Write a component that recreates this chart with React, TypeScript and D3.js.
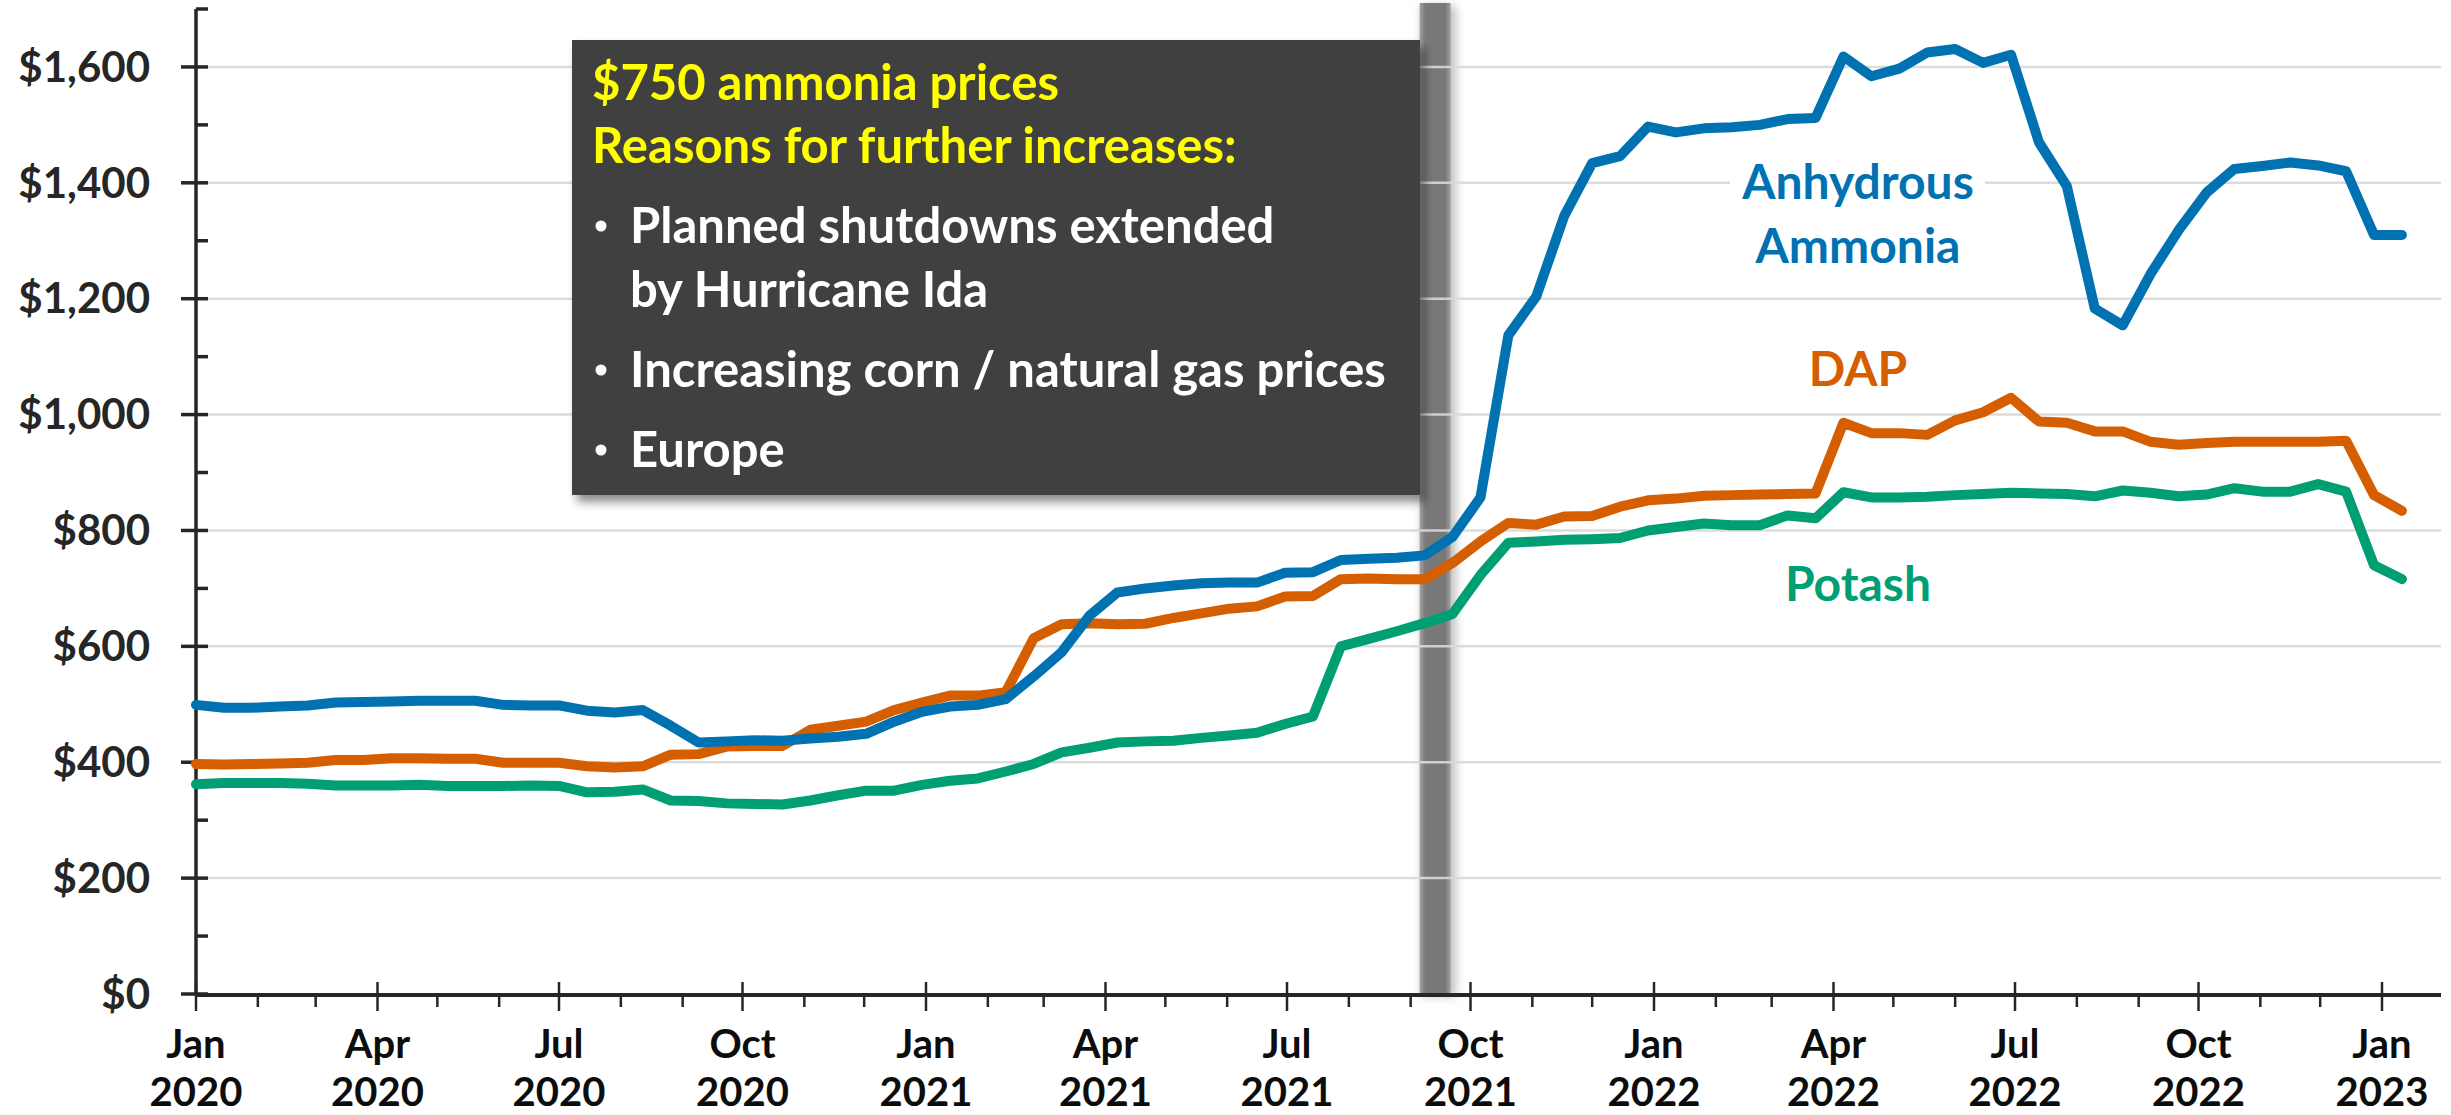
import React from 'react';
import * as d3 from 'd3';

// biweekly retail prices, $ per ton
const START = new Date(2020, 0, 1);
const STEP_DAYS = 14;

const anhydrous = [
  499, 494, 494, 496, 498, 503, 504, 505, 506, 506, 506, 499, 498, 498, 489, 486, 490, 463, 434, 436,
  438, 437, 441, 444, 449, 470, 487, 496, 499, 509, 548, 590, 653, 693, 700, 705, 709, 710, 710, 727,
  728, 749, 751, 753, 757, 789, 857, 1137, 1204, 1343, 1434, 1446, 1497, 1487, 1494, 1496, 1500, 1510, 1512, 1618,
  1584, 1597, 1625, 1631, 1607, 1621, 1470, 1394, 1183, 1154, 1243, 1318, 1383, 1424, 1429, 1435, 1430, 1420, 1310, 1310,
];
const dap = [
  397, 396, 397, 398, 399, 404, 404, 407, 407, 406, 406, 399, 399, 399, 393, 391, 393, 413, 414, 427,
  428, 428, 456, 463, 470, 490, 503, 515, 515, 521, 614, 638, 640, 638, 639, 649, 657, 665, 669, 686,
  687, 716, 717, 716, 716, 744, 781, 813, 810, 824, 825, 841, 852, 855, 860, 861, 862, 863, 864, 986,
  968, 968, 965, 990, 1004, 1029, 988, 986, 971, 971, 953, 948, 951, 953, 953, 953, 953, 955, 861, 834,
];
const potash = [
  362, 364, 364, 364, 363, 360, 360, 360, 361, 359, 359, 359, 360, 359, 348, 349, 353, 334, 333, 329,
  328, 327, 334, 343, 351, 351, 361, 368, 372, 384, 397, 417, 425, 434, 436, 437, 442, 446, 451, 466,
  479, 600, 613, 626, 640, 656, 723, 779, 781, 784, 785, 787, 800, 806, 812, 809, 809, 826, 821, 866,
  857, 857, 858, 861, 863, 865, 864, 863, 859, 869, 865, 859, 862, 873, 867, 867, 880, 867, 740, 716,
];

const seriesColors = ['#0072B2', '#D55E00', '#009E73'];
const yTickValues = [0, 200, 400, 600, 800, 1000, 1200, 1400, 1600];
const IDA_MARK = new Date(2021, 8, 13);

const boxHeading = ['$750 ammonia prices', 'Reasons for further increases:'];
const boxBullets = [
  ['Planned shutdowns extended', 'by Hurricane Ida'],
  ['Increasing corn / natural gas prices'],
  ['Europe'],
];

const W = 2451;
const H = 1115;
const FONT = "Lato, 'Open Sans', sans-serif";

export default function App() {
  const dates = anhydrous.map((_, i) => d3.timeDay.offset(START, i * STEP_DAYS));

  const x = d3.scaleTime()
    .domain([new Date(2020, 0, 1), new Date(2023, 0, 1)])
    .range([196, 2382]);
  const y = d3.scaleLinear().domain([0, 1700]).range([994, 9]);

  const x0 = x.range()[0];
  const xEnd = 2441;
  const y0 = y(0);

  const line = d3.line<number>()
    .x((_, i) => x(dates[i]))
    .y(d => y(d));

  const months = d3.timeMonth.range(new Date(2020, 0, 1), new Date(2023, 0, 2));
  const minorY = d3.range(100, 1701, 200);

  const idaX = x(IDA_MARK);

  const series = [
    { name: 'Anhydrous Ammonia', values: anhydrous, color: seriesColors[0] },
    { name: 'DAP', values: dap, color: seriesColors[1] },
    { name: 'Potash', values: potash, color: seriesColors[2] },
  ];

  let bulletY = 243;
  const bulletRows: { text: string; y: number; first: boolean }[] = [];
  boxBullets.forEach(b => {
    b.forEach((t, j) => {
      bulletRows.push({ text: t, y: bulletY, first: j === 0 });
      bulletY += j === b.length - 1 ? 80 : 64;
    });
  });

  return (
    <div style={{ position: 'absolute', left: 0, top: 0 }}>
      <svg width={W} height={H} style={{ display: 'block', background: '#fff' }} fontFamily={FONT}>
        <defs>
          <linearGradient id="barGrad" x1="0" x2="1" y1="0" y2="0">
            <stop offset="0" stopColor="#a3a3a3" />
            <stop offset="0.18" stopColor="#7a7a7a" />
            <stop offset="0.82" stopColor="#777777" />
            <stop offset="1" stopColor="#a0a0a0" />
          </linearGradient>
          <filter id="soft" x="-50%" y="-5%" width="200%" height="110%">
            <feGaussianBlur stdDeviation="5" />
          </filter>
          <filter id="boxShadow" x="-5%" y="-5%" width="115%" height="120%">
            <feDropShadow dx="5" dy="7" stdDeviation="5" floodColor="#000" floodOpacity="0.45" />
          </filter>
        </defs>

        {/* hurricane marker */}
        <rect x={idaX - 13} y={6} width={34} height={y0 - 4} fill="#bdbdbd" filter="url(#soft)" />
        <rect x={idaX - 15} y={3} width={31} height={y0 - 3} fill="url(#barGrad)" />

        {/* gridlines */}
        {yTickValues.filter(v => v > 0).map(v => (
          <line key={v} x1={x0 + 12} x2={xEnd} y1={y(v)} y2={y(v)} stroke="#d9d9d9" strokeWidth={2.5} opacity={0.9} />
        ))}

        {/* annotation box */}
        <rect x={572} y={40} width={848} height={455} fill="#404040" filter="url(#boxShadow)" />
        {boxHeading.map((t, i) => (
          <text key={t} x={592} y={100 + i * 63} fill="#FFFF00" fontSize={49} fontWeight={700}>{t}</text>
        ))}
        {bulletRows.map(r => (
          <g key={r.text}>
            {r.first && <circle cx={601} cy={r.y - 17} r={5.5} fill="#fff" />}
            <text x={630} y={r.y} fill="#fff" fontSize={49} fontWeight={700}>{r.text}</text>
          </g>
        ))}

        {/* label backing for the ammonia label */}
        <rect x={1730} y={158} width={255} height={110} fill="#fff" />

        {/* axes */}
        <line x1={x0} x2={x0} y1={y(1700)} y2={y0} stroke="#262626" strokeWidth={3.5} />
        {yTickValues.map(v => (
          <g key={v}>
            <line x1={x0 - 15} x2={x0 + 12} y1={y(v)} y2={y(v)} stroke="#262626" strokeWidth={3.5} />
            <text x={150} y={y(v)} dy="0.35em" textAnchor="end" fontSize={42} fontWeight={700} fill="#262626">
              {d3.format('$,')(v)}
            </text>
          </g>
        ))}
        {minorY.map(v => (
          <line key={v} x1={x0} x2={x0 + 12} y1={y(v)} y2={y(v)} stroke="#262626" strokeWidth={3.5} />
        ))}

        <line x1={x0} x2={xEnd} y1={y0 + 1} y2={y0 + 1} stroke="#262626" strokeWidth={4} />
        {months.map(m => {
          const major = m.getMonth() % 3 === 0;
          const mx = x(m);
          return (
            <g key={m.getTime()}>
              <line x1={mx} x2={mx} y1={major ? 982 : y0} y2={major ? 1011 : 1007} stroke="#262626" strokeWidth={2.5} />
              {major && (
                <g fontSize={40} fontWeight={700} fill="#0d0d0d" textAnchor="middle">
                  <text x={mx} y={1058}>{d3.timeFormat('%b')(m)}</text>
                  <text x={mx} y={1106}>{d3.timeFormat('%Y')(m)}</text>
                </g>
              )}
            </g>
          );
        })}

        {/* series */}
        {series.slice().reverse().map(s => (
          <path key={s.name} d={line(s.values) || ''} fill="none" stroke={s.color} strokeWidth={10}
            strokeLinejoin="round" strokeLinecap="round" />
        ))}

        {/* series labels */}
        <text x={1858} textAnchor="middle" fontSize={48} fontWeight={700} fill={seriesColors[0]}>
          <tspan x={1858} y={199}>Anhydrous</tspan>
          <tspan x={1858} y={263}>Ammonia</tspan>
        </text>
        <text x={1858} y={386} textAnchor="middle" fontSize={48} fontWeight={700} fill={seriesColors[1]}>DAP</text>
        <text x={1858} y={601} textAnchor="middle" fontSize={48} fontWeight={700} fill={seriesColors[2]}>Potash</text>
      </svg>
    </div>
  );
}
